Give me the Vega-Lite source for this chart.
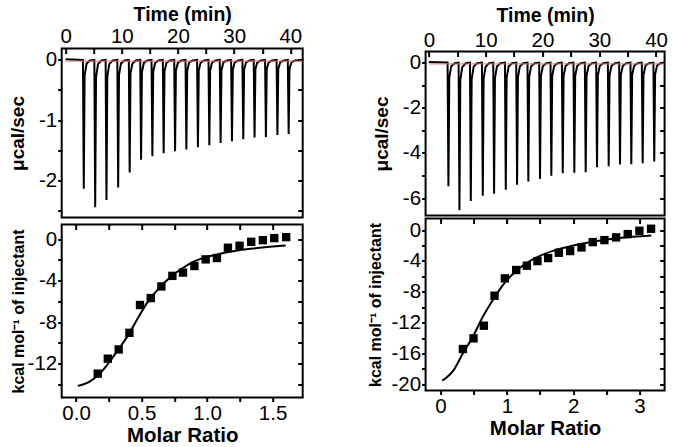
{
  "$schema": "https://vega.github.io/schema/vega-lite/v6.json",
  "background": "white",
  "padding": {"left": 6.7, "top": -2.5, "right": 2, "bottom": 0},
  "datasets": {
    "rawL": [
      {"t":0,"v":0.01},{"t":3.08,"v":0},
      {"t":3.08,"v":0},{"t":3.23,"v":-2.14},{"t":3.38,"v":-0.26},{"t":3.73,"v":-0.06},{"t":4.33,"v":-0.01},
      {"t":5.11,"v":0},{"t":5.26,"v":-2.45},{"t":5.41,"v":-0.29},{"t":5.76,"v":-0.07},{"t":6.36,"v":-0.01},
      {"t":7.12,"v":0},{"t":7.27,"v":-2.33},{"t":7.42,"v":-0.28},{"t":7.77,"v":-0.07},{"t":8.37,"v":-0.01},
      {"t":9.2,"v":0},{"t":9.35,"v":-2.12},{"t":9.5,"v":-0.25},{"t":9.85,"v":-0.06},{"t":10.45,"v":-0.01},
      {"t":11.25,"v":0},{"t":11.4,"v":-1.87},{"t":11.55,"v":-0.22},{"t":11.9,"v":-0.06},{"t":12.5,"v":-0.01},
      {"t":13.28,"v":0},{"t":13.43,"v":-1.66},{"t":13.58,"v":-0.2},{"t":13.93,"v":-0.05},{"t":14.53,"v":-0.01},
      {"t":15.29,"v":0},{"t":15.44,"v":-1.6},{"t":15.59,"v":-0.19},{"t":15.94,"v":-0.05},{"t":16.54,"v":-0.01},
      {"t":17.3,"v":0},{"t":17.45,"v":-1.55},{"t":17.6,"v":-0.19},{"t":17.95,"v":-0.05},{"t":18.55,"v":-0.01},
      {"t":19.33,"v":0},{"t":19.48,"v":-1.52},{"t":19.63,"v":-0.18},{"t":19.98,"v":-0.05},{"t":20.58,"v":-0.01},
      {"t":21.34,"v":0},{"t":21.49,"v":-1.49},{"t":21.64,"v":-0.18},{"t":21.99,"v":-0.04},{"t":22.59,"v":-0.01},
      {"t":23.4,"v":0},{"t":23.55,"v":-1.45},{"t":23.7,"v":-0.17},{"t":24.05,"v":-0.04},{"t":24.65,"v":-0.01},
      {"t":25.43,"v":0},{"t":25.58,"v":-1.42},{"t":25.73,"v":-0.17},{"t":26.08,"v":-0.04},{"t":26.68,"v":-0.01},
      {"t":27.44,"v":0},{"t":27.59,"v":-1.38},{"t":27.74,"v":-0.17},{"t":28.09,"v":-0.04},{"t":28.69,"v":-0.01},
      {"t":29.46,"v":0},{"t":29.61,"v":-1.35},{"t":29.76,"v":-0.16},{"t":30.11,"v":-0.04},{"t":30.71,"v":-0.01},
      {"t":31.47,"v":0},{"t":31.62,"v":-1.32},{"t":31.77,"v":-0.16},{"t":32.12,"v":-0.04},{"t":32.72,"v":-0.01},
      {"t":33.48,"v":0},{"t":33.63,"v":-1.29},{"t":33.78,"v":-0.15},{"t":34.13,"v":-0.04},{"t":34.73,"v":-0.01},
      {"t":35.5,"v":0},{"t":35.65,"v":-1.28},{"t":35.8,"v":-0.15},{"t":36.15,"v":-0.04},{"t":36.75,"v":-0.01},
      {"t":37.55,"v":0},{"t":37.7,"v":-1.25},{"t":37.85,"v":-0.15},{"t":38.2,"v":-0.04},{"t":38.8,"v":-0.01},
      {"t":39.55,"v":0},{"t":39.7,"v":-1.23},{"t":39.85,"v":-0.15},{"t":40.2,"v":-0.04},{"t":40.8,"v":-0.01},
      {"t":42.2,"v":0}
    ],
    "rawR": [
      {"t":0,"v":0.02},
      {"t":3.29,"v":0},{"t":3.44,"v":-5.47},{"t":3.59,"v":-0.66},{"t":3.94,"v":-0.16},{"t":4.54,"v":-0.03},
      {"t":5.23,"v":0},{"t":5.38,"v":-6.54},{"t":5.53,"v":-0.78},{"t":5.88,"v":-0.2},{"t":6.48,"v":-0.03},
      {"t":7.23,"v":0},{"t":7.38,"v":-6.13},{"t":7.53,"v":-0.74},{"t":7.88,"v":-0.18},{"t":8.48,"v":-0.03},
      {"t":9.34,"v":0},{"t":9.49,"v":-5.9},{"t":9.64,"v":-0.71},{"t":9.99,"v":-0.18},{"t":10.59,"v":-0.03},
      {"t":11.33,"v":0},{"t":11.48,"v":-5.81},{"t":11.63,"v":-0.7},{"t":11.98,"v":-0.17},{"t":12.58,"v":-0.03},
      {"t":13.39,"v":0},{"t":13.54,"v":-5.63},{"t":13.69,"v":-0.68},{"t":14.04,"v":-0.17},{"t":14.64,"v":-0.03},
      {"t":15.38,"v":0},{"t":15.53,"v":-5.41},{"t":15.68,"v":-0.65},{"t":16.03,"v":-0.16},{"t":16.63,"v":-0.03},
      {"t":17.36,"v":0},{"t":17.51,"v":-5.26},{"t":17.66,"v":-0.63},{"t":18.01,"v":-0.16},{"t":18.61,"v":-0.03},
      {"t":19.42,"v":0},{"t":19.57,"v":-5.15},{"t":19.72,"v":-0.62},{"t":20.07,"v":-0.15},{"t":20.67,"v":-0.03},
      {"t":21.41,"v":0},{"t":21.56,"v":-5.01},{"t":21.71,"v":-0.6},{"t":22.06,"v":-0.15},{"t":22.66,"v":-0.03},
      {"t":23.42,"v":0},{"t":23.57,"v":-4.9},{"t":23.72,"v":-0.59},{"t":24.07,"v":-0.15},{"t":24.67,"v":-0.03},
      {"t":25.46,"v":0},{"t":25.61,"v":-4.88},{"t":25.76,"v":-0.59},{"t":26.11,"v":-0.15},{"t":26.71,"v":-0.03},
      {"t":27.46,"v":0},{"t":27.61,"v":-4.85},{"t":27.76,"v":-0.58},{"t":28.11,"v":-0.15},{"t":28.71,"v":-0.03},
      {"t":29.45,"v":0},{"t":29.6,"v":-4.63},{"t":29.75,"v":-0.56},{"t":30.1,"v":-0.14},{"t":30.7,"v":-0.03},
      {"t":31.51,"v":0},{"t":31.66,"v":-4.59},{"t":31.81,"v":-0.55},{"t":32.16,"v":-0.14},{"t":32.76,"v":-0.03},
      {"t":33.5,"v":0},{"t":33.65,"v":-4.51},{"t":33.8,"v":-0.54},{"t":34.15,"v":-0.14},{"t":34.75,"v":-0.03},
      {"t":35.49,"v":0},{"t":35.64,"v":-4.5},{"t":35.79,"v":-0.54},{"t":36.14,"v":-0.14},{"t":36.74,"v":-0.03},
      {"t":37.49,"v":0},{"t":37.64,"v":-4.46},{"t":37.79,"v":-0.54},{"t":38.14,"v":-0.13},{"t":38.74,"v":-0.03},
      {"t":39.53,"v":0},{"t":39.68,"v":-4.38},{"t":39.83,"v":-0.53},{"t":40.18,"v":-0.13},{"t":40.78,"v":-0.03},
      {"t":41.5,"v":0}
    ],
    "baseL": [{"t":0,"v":-0.02},{"t":42.2,"v":-0.02}],
    "baseR": [{"t":0,"v":-0.06},{"t":41.5,"v":-0.06}],
    "ptsL": [
      {"x":0.165,"y":-12.96},{"x":0.242,"y":-11.52},{"x":0.325,"y":-10.63},{"x":0.407,"y":-9.03},
      {"x":0.488,"y":-6.35},{"x":0.57,"y":-5.68},{"x":0.651,"y":-4.56},{"x":0.735,"y":-3.54},
      {"x":0.816,"y":-3.22},{"x":0.903,"y":-2.59},{"x":0.989,"y":-1.95},{"x":1.075,"y":-1.82},
      {"x":1.159,"y":-0.83},{"x":1.248,"y":-0.64},{"x":1.337,"y":-0.26},{"x":1.426,"y":-0.1},
      {"x":1.513,"y":0.1},{"x":1.604,"y":0.19}
    ],
    "fitL": [
      {"x":0.013,"y":-14.14},{"x":0.1,"y":-13.75},{"x":0.17,"y":-13.1},{"x":0.25,"y":-11.9},
      {"x":0.33,"y":-10.5},{"x":0.4,"y":-9.2},{"x":0.45,"y":-8.1},{"x":0.5,"y":-7.0},
      {"x":0.55,"y":-6.0},{"x":0.6,"y":-5.2},{"x":0.65,"y":-4.5},{"x":0.7,"y":-3.9},
      {"x":0.75,"y":-3.35},{"x":0.8,"y":-2.9},{"x":0.85,"y":-2.5},{"x":0.9,"y":-2.15},
      {"x":0.95,"y":-1.9},{"x":1.0,"y":-1.7},{"x":1.1,"y":-1.4},{"x":1.2,"y":-1.17},
      {"x":1.3,"y":-0.98},{"x":1.4,"y":-0.84},{"x":1.5,"y":-0.72},{"x":1.6,"y":-0.62}
    ],
    "ptsR": [
      {"x":0.337,"y":-15.42},{"x":0.497,"y":-14.04},{"x":0.653,"y":-12.4},{"x":0.814,"y":-8.51},
      {"x":0.97,"y":-6.26},{"x":1.141,"y":-5.18},{"x":1.302,"y":-4.62},{"x":1.462,"y":-4.02},
      {"x":1.623,"y":-3.63},{"x":1.784,"y":-2.94},{"x":1.955,"y":-2.72},{"x":2.126,"y":-2.25},
      {"x":2.296,"y":-1.56},{"x":2.472,"y":-1.3},{"x":2.648,"y":-0.95},{"x":2.824,"y":-0.52},
      {"x":3.0,"y":-0.09},{"x":3.176,"y":0.17}
    ],
    "fitR": [
      {"x":0.025,"y":-19.52},{"x":0.1,"y":-19.05},{"x":0.186,"y":-18.3},{"x":0.337,"y":-15.98},
      {"x":0.487,"y":-13.82},{"x":0.638,"y":-11.23},{"x":0.789,"y":-9.07},{"x":0.94,"y":-7.13},
      {"x":1.09,"y":-5.7},{"x":1.29,"y":-4.32},{"x":1.49,"y":-3.37},{"x":1.74,"y":-2.59},
      {"x":1.99,"y":-2.03},{"x":2.3,"y":-1.51},{"x":2.6,"y":-1.12},{"x":2.9,"y":-0.86},
      {"x":3.18,"y":-0.69}
    ]
  },
  "columns": 2,
  "align": "none",
  "spacing": {"row": 0, "column": 58.9},
  "concat": [
    {"width": 1, "height": 1, "data": {"values": []}, "mark": "point", "view": {"stroke": null}},
    {"width": 1, "height": 5.5, "data": {"values": []}, "mark": "point", "view": {"stroke": null}},
    {
      "spacing": 0,
      "vconcat": [
        {
          "width": 241, "height": 169,
          "layer": [
            {
              "data": {"name": "rawL"},
              "mark": {"type": "line", "color": "#000", "strokeWidth": 2},
              "encoding": {
                "x": {"field": "t", "type": "quantitative", "scale": {"domain": [-0.7, 42.2], "nice": false, "zero": false},
                  "axis": {"orient": "top", "title": "Time (min)", "titleFontSize": 19.5, "values": [0,5,10,15,20,25,30,35,40], "labelExpr": "datum.value % 10 === 0 ? format(datum.value, 'd') : ''", "tickSize": -5, "labelPadding": 6.7, "titlePadding": 2}},
                "y": {"field": "v", "type": "quantitative", "scale": {"domain": [-2.62, 0.19], "nice": false, "zero": false},
                  "axis": {"orient": "left", "title": "μcal/sec", "values": [-2.5,-2,-1.5,-1,-0.5,0], "labelExpr": "datum.value % 1 === 0 ? (datum.value < 0 ? '-' : '') + format(abs(datum.value), 'd') : ''", "titlePadding": 11.1}}
              }
            },
            {
              "data": {"name": "baseL"},
              "mark": {"type": "line", "color": "#e07070", "strokeWidth": 1},
              "encoding": {
                "x": {"field": "t", "type": "quantitative", "scale": {"domain": [-0.7, 42.2], "nice": false, "zero": false}, "axis": null},
                "y": {"field": "v", "type": "quantitative", "scale": {"domain": [-2.62, 0.19], "nice": false, "zero": false},
                  "axis": {"orient": "right", "labels": false, "tickSize": -5, "title": null, "values": [-2.5,-2,-1.5,-1,-0.5,0]}}
              }
            }
          ],
          "resolve": {"axis": {"x": "independent", "y": "independent"}}
        },
        {
          "width": 241, "height": 173,
          "layer": [
            {
              "data": {"name": "ptsL"},
              "mark": {"type": "square", "filled": true, "color": "#000", "size": 70, "opacity": 1},
              "encoding": {
                "x": {"field": "x", "type": "quantitative", "scale": {"domain": [-0.11, 1.73], "nice": false, "zero": false},
                  "axis": {"orient": "bottom", "title": "Molar Ratio", "titleFontSize": 20.5, "values": [0,0.25,0.5,0.75,1,1.25,1.5], "labelExpr": "abs(datum.value*2 - round(datum.value*2)) < 0.001 ? format(datum.value, '.1f') : ''", "labelPadding": 2.5, "titlePadding": 1.5}},
                "y": {"field": "y", "type": "quantitative", "scale": {"domain": [-15.26, 1.41], "nice": false, "zero": false},
                  "axis": {"orient": "left", "title": "kcal mol⁻¹ of injectant", "titleFontSize": 16, "values": [-14,-12,-10,-8,-6,-4,-2,0], "labelExpr": "datum.value % 4 === 0 ? (datum.value < 0 ? '-' : '') + format(abs(datum.value), 'd') : ''", "titlePadding": 0.4}}
              }
            },
            {
              "data": {"name": "fitL"},
              "mark": {"type": "line", "color": "#000", "strokeWidth": 2, "interpolate": "monotone"},
              "encoding": {
                "x": {"field": "x", "type": "quantitative", "scale": {"domain": [-0.11, 1.73], "nice": false, "zero": false},
                  "axis": {"orient": "top", "labels": false, "tickSize": -5, "title": null, "values": [0,0.25,0.5,0.75,1,1.25,1.5]}},
                "y": {"field": "y", "type": "quantitative", "scale": {"domain": [-15.26, 1.41], "nice": false, "zero": false},
                  "axis": {"orient": "right", "labels": false, "tickSize": -5, "title": null, "values": [-14,-12,-10,-8,-6,-4,-2,0]}}
              }
            }
          ],
          "resolve": {"axis": {"x": "independent", "y": "independent"}}
        }
      ]
    },
    {
      "spacing": 0,
      "vconcat": [
        {
          "width": 239, "height": 164,
          "layer": [
            {
              "data": {"name": "rawR"},
              "mark": {"type": "line", "color": "#000", "strokeWidth": 2},
              "encoding": {
                "x": {"field": "t", "type": "quantitative", "scale": {"domain": [-0.58, 41.5], "nice": false, "zero": false},
                  "axis": {"orient": "top", "title": "Time (min)", "titleFontSize": 19.5, "values": [0,5,10,15,20,25,30,35,40], "labelExpr": "datum.value % 10 === 0 ? format(datum.value, 'd') : ''", "tickSize": -5, "labelPadding": 6.3, "titlePadding": 5.1}},
                "y": {"field": "v", "type": "quantitative", "scale": {"domain": [-6.77, 0.49], "nice": false, "zero": false},
                  "axis": {"orient": "left", "title": "μcal/sec", "values": [-6,-5,-4,-3,-2,-1,0], "labelExpr": "datum.value % 2 === 0 ? (datum.value < 0 ? '-' : '') + format(abs(datum.value), 'd') : ''", "titlePadding": 10.8}}
              }
            },
            {
              "data": {"name": "baseR"},
              "mark": {"type": "line", "color": "#e07070", "strokeWidth": 1},
              "encoding": {
                "x": {"field": "t", "type": "quantitative", "scale": {"domain": [-0.58, 41.5], "nice": false, "zero": false}, "axis": null},
                "y": {"field": "v", "type": "quantitative", "scale": {"domain": [-6.77, 0.49], "nice": false, "zero": false},
                  "axis": {"orient": "right", "labels": false, "tickSize": -5, "title": null, "values": [-6,-5,-4,-3,-2,-1,0]}}
              }
            }
          ],
          "resolve": {"axis": {"x": "independent", "y": "independent"}}
        },
        {
          "width": 239, "height": 172,
          "layer": [
            {
              "data": {"name": "ptsR"},
              "mark": {"type": "square", "filled": true, "color": "#000", "size": 70, "opacity": 1},
              "encoding": {
                "x": {"field": "x", "type": "quantitative", "scale": {"domain": [-0.226, 3.38], "nice": false, "zero": false},
                  "axis": {"orient": "bottom", "title": "Molar Ratio", "titleFontSize": 20.5, "values": [0,0.5,1,1.5,2,2.5,3], "labelExpr": "datum.value % 1 === 0 ? format(datum.value, 'd') : ''", "labelPadding": 2.5, "titlePadding": 1.5}},
                "y": {"field": "y", "type": "quantitative", "scale": {"domain": [-20.8, 1.5], "nice": false, "zero": false},
                  "axis": {"orient": "left", "title": "kcal mol⁻¹ of injectant", "titleFontSize": 16, "values": [-20,-18,-16,-14,-12,-10,-8,-6,-4,-2,0], "labelExpr": "datum.value % 4 === 0 ? (datum.value < 0 ? '-' : '') + format(abs(datum.value), 'd') : ''", "titlePadding": 7}}
              }
            },
            {
              "data": {"name": "fitR"},
              "mark": {"type": "line", "color": "#000", "strokeWidth": 2, "interpolate": "monotone"},
              "encoding": {
                "x": {"field": "x", "type": "quantitative", "scale": {"domain": [-0.226, 3.38], "nice": false, "zero": false},
                  "axis": {"orient": "top", "labels": false, "tickSize": -5, "title": null, "values": [0,0.5,1,1.5,2,2.5,3]}},
                "y": {"field": "y", "type": "quantitative", "scale": {"domain": [-20.8, 1.5], "nice": false, "zero": false},
                  "axis": {"orient": "right", "labels": false, "tickSize": -5, "title": null, "values": [-20,-18,-16,-14,-12,-10,-8,-6,-4,-2,0]}}
              }
            }
          ],
          "resolve": {"axis": {"x": "independent", "y": "independent"}}
        }
      ]
    }
  ],
  "config": {
    "view": {"stroke": "#000", "strokeWidth": 2},
    "axis": {
      "grid": false, "domain": false, "tickColor": "#000", "tickWidth": 2, "tickSize": 4,
      "labelFont": "Liberation Sans", "labelFontSize": 20.5, "labelColor": "#000", "labelPadding": 1,
      "labelFlush": false, "labelOverlap": false, "labelBound": false,
      "titleFont": "Liberation Sans", "titleFontSize": 19, "titleFontWeight": "bold", "titleColor": "#000"
    }
  }
}
